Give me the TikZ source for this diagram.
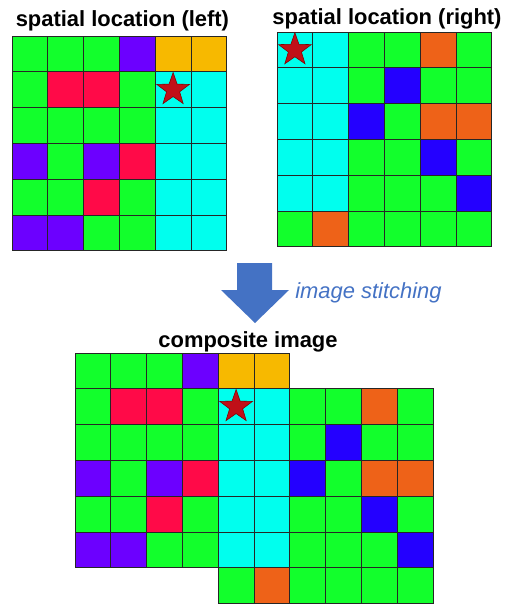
\documentclass[tikz,border=0pt]{standalone}
\usepackage{fontspec}
\setmainfont{Liberation Sans}
\usepackage{tikz}
\usetikzlibrary{shapes.geometric}

\definecolor{cg}{RGB}{18,255,44}
\definecolor{cc}{RGB}{0,255,238}
\definecolor{cp}{RGB}{108,0,255}
\definecolor{cy}{RGB}{247,185,0}
\definecolor{cr}{RGB}{255,10,72}
\definecolor{cb}{RGB}{36,0,255}
\definecolor{co}{RGB}{238,98,24}
\definecolor{starred}{RGB}{192,16,24}
\definecolor{stitchblue}{RGB}{68,114,196}

% cell colours, one group per row (top to bottom)
\def\leftrows{{cg,cg,cg,cp,cy,cy},{cg,cr,cr,cg,cc,cc},{cg,cg,cg,cg,cc,cc},%
  {cp,cg,cp,cr,cc,cc},{cg,cg,cr,cg,cc,cc},{cp,cp,cg,cg,cc,cc}}
\def\rightrows{{cc,cc,cg,cg,co,cg},{cc,cc,cg,cb,cg,cg},{cc,cc,cb,cg,co,co},%
  {cc,cc,cg,cg,cb,cg},{cc,cc,cg,cg,cg,cb},{cg,co,cg,cg,cg,cg}}
\def\cs{0.895}

\begin{document}
\begin{tikzpicture}[
    cell/.style={draw=black!85, line width=0.6pt},
    ttl/.style={font=\bfseries\fontsize{15.6}{18}\selectfont, anchor=base, inner sep=0pt},
    note/.style={font=\itshape\fontsize{15.6}{18}\selectfont, text=stitchblue,
        anchor=base west, inner sep=0pt},
    starmark/.style={star, star points=5, star point ratio=2.5, fill=starred,
        draw=red!50!black, line width=0.4pt, minimum size=0.86cm, inner sep=0pt}
]
\useasboundingbox (0,0) rectangle (12.625,-15.1);

% left view
\begin{scope}[shift={(0.30,-0.90)}]
\foreach \lst [count=\r from 0] in \leftrows {
    \foreach \c [count=\k from 0] in \lst
        \draw[cell, fill=\c] ({\k*\cs},{-\r*\cs}) rectangle ++(\cs,-\cs);
}
\node[starmark] (sl) at ({4.5*\cs},{-1.5*\cs}) {};
\end{scope}
\node[ttl] (tl) at (3.06,-0.675) {spatial location (left)};

% right view
\begin{scope}[shift={(6.925,-0.80)}]
\foreach \lst [count=\r from 0] in \rightrows {
    \foreach \c [count=\k from 0] in \lst
        \draw[cell, fill=\c] ({\k*\cs},{-\r*\cs}) rectangle ++(\cs,-\cs);
}
\node[starmark] (sr) at ({0.5*\cs},{-0.5*\cs}) {};
\end{scope}
\node[ttl] (tr) at (9.675,-0.625) {spatial location (right)};

% stitching arrow
\fill[stitchblue] (5.925,-6.575) -- (6.8,-6.575) -- (6.8,-7.25) -- (7.225,-7.25)
    -- (6.375,-8.075) -- (5.525,-7.25) -- (5.925,-7.25) -- cycle;
\node[note] (st) at (7.375,-7.45) {image stitching};

% composite
\node[ttl] (tc) at (6.2,-8.675) {composite image};
\begin{scope}[shift={(1.875,-8.825)}]
\foreach \lst [count=\r from 0] in \leftrows {
    \foreach \c [count=\k from 0] in \lst
        \draw[cell, fill=\c] ({\k*\cs},{-\r*\cs}) rectangle ++(\cs,-\cs);
}
\foreach \lst [count=\r from 1] in \rightrows {
    \foreach \c [count=\k from 4] in \lst
        \draw[cell, fill=\c] ({\k*\cs},{-\r*\cs}) rectangle ++(\cs,-\cs);
}
\node[starmark] (sc) at ({4.5*\cs},{-1.5*\cs}) {};
\end{scope}
\end{tikzpicture}
\end{document}
